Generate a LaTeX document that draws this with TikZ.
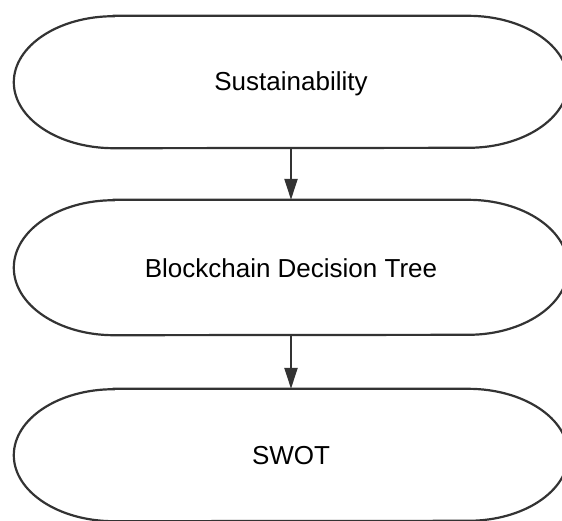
\documentclass[tikz,border=0pt]{standalone}
\usepackage{fontspec}
\setmainfont{Liberation Sans}
\usetikzlibrary{arrows.meta}
\definecolor{linec}{HTML}{333333}
\tikzset{
  term/.style={minimum width=554pt, inner sep=0pt, font=\fontsize{26}{31}\selectfont, text=black},
  outline/.style={draw=linec, line width=2.2pt, fill=white},
  conn/.style={draw=linec, line width=2.2pt, -{Triangle[length=21pt,width=13pt]}}
}
\newcommand{\termshape}[2]{% name, half height
  \path[outline] ([xshift=100pt]#1.north west) -- ([xshift=-100pt]#1.north east)
    arc[start angle=90,end angle=-90,x radius=100pt,y radius=#2pt]
    -- ([xshift=100pt]#1.south west)
    arc[start angle=270,end angle=90,x radius=100pt,y radius=#2pt] -- cycle;}
\begin{document}
\begin{tikzpicture}[x=1pt,y=-1pt]
\useasboundingbox (0,0) rectangle (562,520);
\clip (0,0) rectangle (562,520);
\node[term, minimum height=132pt] (a) at (291,82) {};
\node[term, minimum height=135pt] (b) at (291,267.5) {};
\node[term, minimum height=132pt] (c) at (291,455) {};
\termshape{a}{66}
\termshape{b}{67.5}
\termshape{c}{66}
\node[term, minimum height=0pt] (ta) at ([yshift=-2pt]a.center) {Sustainability};
\node[term, minimum height=0pt] (tb) at ([yshift=-1pt]b.center) {Blockchain Decision Tree};
\node[term, minimum height=0pt] (tc) at ([yshift=-1pt]c.center) {SWOT};
\draw[conn] (a.south) -- (b.north);
\draw[conn] (b.south) -- (c.north);
\end{tikzpicture}
\end{document}
